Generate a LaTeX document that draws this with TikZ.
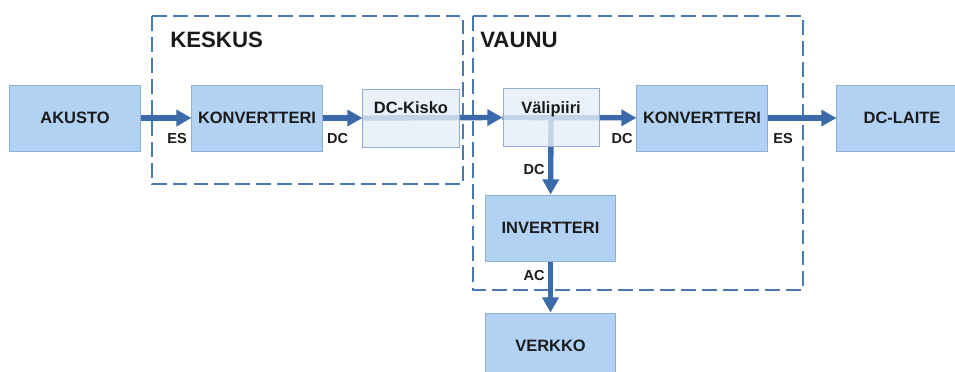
\documentclass[tikz,border=0pt]{standalone}
\usepackage{fontspec}
\setmainfont{Liberation Sans}
\usepackage{xcolor}
\definecolor{vunitfill}{HTML}{B2D2F3}
\definecolor{vunitedge}{HTML}{8CAFD8}
\definecolor{vbusfill}{HTML}{E6EEF8}
\definecolor{vline}{HTML}{3A6AAA}
\definecolor{vzone}{HTML}{4A78B0}
\definecolor{vtext}{HTML}{1A1A1A}
\usetikzlibrary{arrows.meta, backgrounds}

\begin{document}
\begin{tikzpicture}[
  x=0.025cm, y=-0.025cm,
  unit/.style={rectangle, draw=vunitedge, line width=0.7pt, fill=vunitfill, text=vtext,
    minimum width=3.25cm, minimum height=1.65cm, inner sep=0pt,
    font=\bfseries\fontsize{11.7}{14}\selectfont},
  busbox/.style={rectangle, draw=vunitedge, line width=0.7pt, fill=vbusfill, fill opacity=0.8,
    text opacity=1, text=vtext, minimum width=2.4cm, minimum height=1.45cm,
    inner sep=0pt, text height=0.3cm, text depth=0.52cm,
    font=\bfseries\fontsize{11.7}{14}\selectfont},
  flow/.style={-{Triangle[length=0.38cm, width=0.4cm]}, line width=3.8pt, draw=vline},
  zone/.style={draw=vzone, line width=1.4pt, dash pattern=on 10.6pt off 4.3pt},
  zonetitle/.style={anchor=west, text=vtext, inner sep=0pt,
    font=\bfseries\fontsize{15.8}{18}\selectfont},
  tag/.style={text=vtext, inner sep=0pt, font=\bfseries\fontsize{10.3}{12}\selectfont}
]
\useasboundingbox (0,0) rectangle (955,371);

\node[unit] (akusto) at (75,118) {AKUSTO};
\node[unit] (konv1) at (257,118) {KONVERTTERI};
\node[busbox] (kisko) at (411,118) {DC-Kisko};
\node[busbox] (vali) at (551,117.5) {Välipiiri};
\node[unit] (konv2) at (702,118) {KONVERTTERI};
\node[unit] (laite) at (902,118) {DC-LAITE};
\node[unit] (inv) at (550.5,228) {INVERTTERI};
\node[unit] (verkko) at (550.5,346) {VERKKO};

\node[zonetitle] (keskus) at (170,40) {KESKUS};
\node[zonetitle] (vaunu) at (480,40) {VAUNU};

% frames and the lines seen through the bus boxes
\begin{pgfonlayer}{background}
  \draw[zone] (152,16) rectangle (463,184);
  \draw[zone] (473,16) rectangle (803,290);
  \draw[flow] (kisko.west) -- (vali.west);
  \draw[flow] (vali.west) -- (konv2);
  \draw[flow] (vali.center) -- (inv);
\end{pgfonlayer}

\draw[flow] (akusto) -- (konv1);
\draw[flow] (konv1) -- (kisko);
\draw[flow] (konv2) -- (laite);
\draw[flow] (inv) -- (verkko);

\node[tag] (es1) at (177,139) {ES};
\node[tag] (dc1) at (337.5,139) {DC};
\node[tag] (dc2) at (622,139) {DC};
\node[tag] (es2) at (783,139) {ES};
\node[tag] (dc3) at (534,170) {DC};
\node[tag] (ac) at (534,276) {AC};
\end{tikzpicture}
\end{document}
